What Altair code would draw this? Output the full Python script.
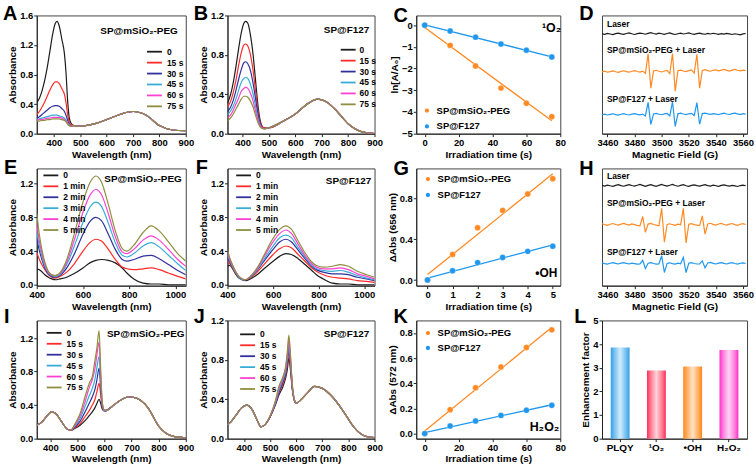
import altair as alt
import pandas as pd

FONT = "Liberation Sans"
SIX = ["#1c1c1c", "#ff2b2b", "#30309c", "#38acd6", "#ff40d2", "#8e8e3e"]
ORANGE = "#ff8a24"
BLUE = "#1f97ee"
GREY = "#1c1c1c"

COL_W = [150, 148, 145, 146]
ROW_H = [119, 118, 119]

PEG = "SP@mSiO₂-PEG"
F127 = "SP@F127"
TIMES_S = ["0", "15 s", "30 s", "45 s", "60 s", "75 s"]
TIMES_MIN = ["0", "1 min", "2 min", "3 min", "4 min", "5 min"]

# ---------------- A ----------------
WA = [335, 345, 355, 365, 375, 385, 395, 405, 412, 420, 430, 440, 446, 452, 458, 465,
      475, 490, 520, 560, 600, 650, 700, 750, 800, 850, 900]
A0h = [0.42, 0.48, 0.58, 0.72, 0.90, 1.12, 1.34, 1.49, 1.52, 1.46, 1.28, 1.08, 0.82, 0.45, 0.22, 0.14]
A15h = [0.26, 0.30, 0.36, 0.43, 0.51, 0.59, 0.66, 0.70, 0.70, 0.68, 0.61, 0.53, 0.42, 0.26, 0.16, 0.12]
A30h = [0.21, 0.23, 0.26, 0.29, 0.32, 0.35, 0.37, 0.38, 0.38, 0.37, 0.34, 0.30, 0.25, 0.18, 0.13, 0.11]
A45h = [0.19, 0.20, 0.21, 0.22, 0.23, 0.24, 0.25, 0.25, 0.25, 0.24, 0.23, 0.21, 0.18, 0.15, 0.12, 0.10]
A60h = [0.18, 0.19, 0.19, 0.20, 0.21, 0.21, 0.22, 0.22, 0.22, 0.22, 0.21, 0.19, 0.17, 0.14, 0.11, 0.10]
A75h = [0.17, 0.17, 0.18, 0.18, 0.19, 0.19, 0.20, 0.20, 0.20, 0.20, 0.19, 0.18, 0.16, 0.13, 0.11, 0.10]
A_TAIL = [0.11, 0.10, 0.11, 0.14, 0.19, 0.26, 0.30, 0.25, 0.11, 0.05, 0.04]

# ---------------- B ----------------
WB = [343, 355, 365, 375, 385, 395, 405, 412, 420, 430, 440, 450, 460, 470, 480,
      500, 550, 600, 650, 685, 720, 760, 800, 850, 900]
B0h = [0.31, 0.40, 0.52, 0.68, 0.86, 1.02, 1.12, 1.14, 1.12, 1.00, 0.80, 0.52, 0.25, 0.10, 0.06]
B15h = [0.27, 0.33, 0.42, 0.54, 0.69, 0.82, 0.90, 0.91, 0.89, 0.80, 0.64, 0.42, 0.20, 0.09, 0.06]
B30h = [0.22, 0.27, 0.34, 0.44, 0.55, 0.65, 0.72, 0.73, 0.71, 0.64, 0.51, 0.34, 0.17, 0.08, 0.05]
B45h = [0.19, 0.23, 0.28, 0.35, 0.44, 0.52, 0.56, 0.57, 0.56, 0.50, 0.40, 0.27, 0.14, 0.07, 0.05]
B60h = [0.16, 0.19, 0.24, 0.30, 0.36, 0.43, 0.46, 0.47, 0.46, 0.41, 0.33, 0.22, 0.12, 0.07, 0.05]
B75h = [0.13, 0.16, 0.20, 0.25, 0.30, 0.35, 0.38, 0.38, 0.37, 0.33, 0.27, 0.18, 0.10, 0.06, 0.05]
B_TAIL = [0.06, 0.12, 0.20, 0.31, 0.35, 0.32, 0.22, 0.10, 0.02, 0.00]

# ---------------- E / F ----------------
WE = [400, 410, 420, 435, 450, 465, 480, 500, 530, 560, 600, 630, 656, 680, 710, 740,
      770, 790, 820, 860, 895, 930, 970, 1010, 1045]
E0 = [0.19, 0.18, 0.16, 0.12, 0.09, 0.07, 0.06, 0.07, 0.09, 0.13, 0.20, 0.26, 0.29, 0.30, 0.29, 0.26, 0.20, 0.14, 0.07, 0.02, 0.01, 0.01, 0.00, 0.00, 0.00]
E1 = [0.38, 0.31, 0.25, 0.18, 0.12, 0.09, 0.08, 0.10, 0.15, 0.24, 0.40, 0.50, 0.54, 0.52, 0.42, 0.30, 0.21, 0.19, 0.18, 0.19, 0.20, 0.18, 0.14, 0.10, 0.07]
E2 = [0.55, 0.42, 0.32, 0.20, 0.13, 0.10, 0.09, 0.11, 0.20, 0.35, 0.60, 0.75, 0.80, 0.76, 0.60, 0.42, 0.30, 0.28, 0.30, 0.34, 0.35, 0.31, 0.24, 0.17, 0.12]
E3 = [0.63, 0.48, 0.36, 0.22, 0.14, 0.11, 0.10, 0.12, 0.24, 0.44, 0.74, 0.92, 0.98, 0.93, 0.73, 0.50, 0.35, 0.33, 0.37, 0.46, 0.50, 0.45, 0.35, 0.25, 0.17]
E4 = [0.72, 0.54, 0.40, 0.25, 0.15, 0.12, 0.11, 0.13, 0.27, 0.51, 0.86, 1.06, 1.13, 1.07, 0.84, 0.57, 0.39, 0.37, 0.42, 0.53, 0.58, 0.53, 0.42, 0.30, 0.22]
E5 = [0.85, 0.62, 0.45, 0.27, 0.16, 0.12, 0.11, 0.14, 0.30, 0.58, 0.98, 1.21, 1.29, 1.22, 0.95, 0.64, 0.43, 0.40, 0.47, 0.62, 0.70, 0.64, 0.51, 0.37, 0.28]
F0 = [0.22, 0.23, 0.20, 0.13, 0.08, 0.06, 0.05, 0.07, 0.12, 0.19, 0.28, 0.34, 0.37, 0.36, 0.31, 0.24, 0.17, 0.12, 0.07, 0.02, 0.01, 0.01, 0.00, 0.00, 0.00]
F1 = [0.28, 0.25, 0.21, 0.14, 0.09, 0.06, 0.06, 0.08, 0.15, 0.24, 0.36, 0.43, 0.46, 0.44, 0.36, 0.28, 0.20, 0.16, 0.12, 0.09, 0.08, 0.07, 0.05, 0.04, 0.03]
F2 = [0.33, 0.27, 0.22, 0.15, 0.09, 0.06, 0.06, 0.09, 0.17, 0.28, 0.42, 0.51, 0.54, 0.51, 0.41, 0.31, 0.22, 0.18, 0.15, 0.13, 0.13, 0.12, 0.09, 0.07, 0.05]
F3 = [0.35, 0.29, 0.23, 0.15, 0.09, 0.06, 0.06, 0.09, 0.18, 0.30, 0.46, 0.56, 0.59, 0.56, 0.44, 0.33, 0.23, 0.19, 0.17, 0.16, 0.17, 0.15, 0.11, 0.08, 0.06]
F4 = [0.38, 0.30, 0.24, 0.16, 0.10, 0.07, 0.06, 0.10, 0.19, 0.33, 0.51, 0.61, 0.65, 0.61, 0.48, 0.35, 0.25, 0.21, 0.19, 0.19, 0.20, 0.18, 0.13, 0.10, 0.07]
F5 = [0.42, 0.32, 0.25, 0.16, 0.10, 0.07, 0.06, 0.10, 0.20, 0.35, 0.55, 0.66, 0.70, 0.66, 0.52, 0.38, 0.27, 0.23, 0.21, 0.22, 0.24, 0.22, 0.16, 0.12, 0.09]

# ---------------- I ----------------
WI = [350, 370, 390, 405, 420, 440, 460, 475,
      490, 510, 530, 545, 555, 565, 572, 580, 586, 592, 600,
      610, 630, 660, 690, 720, 760, 800, 850, 900]
I_HEAD = [0.16, 0.20, 0.28, 0.32, 0.30, 0.21, 0.12, 0.10]
I0m = [0.12, 0.16, 0.22, 0.28, 0.32, 0.37, 0.42, 0.47, 0.42, 0.35, 0.33]
I15m = [0.13, 0.18, 0.27, 0.34, 0.40, 0.47, 0.56, 0.66, 0.52, 0.37, 0.33]
I30m = [0.14, 0.21, 0.33, 0.43, 0.50, 0.59, 0.70, 0.84, 0.60, 0.38, 0.33]
I45m = [0.15, 0.24, 0.40, 0.52, 0.60, 0.71, 0.85, 0.98, 0.68, 0.40, 0.33]
I60m = [0.16, 0.27, 0.46, 0.62, 0.70, 0.84, 1.00, 1.15, 0.76, 0.42, 0.34]
I75m = [0.17, 0.30, 0.52, 0.67, 0.74, 0.94, 1.08, 1.29, 0.82, 0.43, 0.34]
I_TAIL = [0.34, 0.39, 0.46, 0.50, 0.48, 0.37, 0.15, 0.03, 0.01]

# ---------------- J ----------------
WJ = [337, 350, 370, 390, 410, 430, 450, 465,
      480, 500, 520, 535, 548, 560, 566, 572, 578, 585, 592,
      600, 620, 645, 670, 700, 740, 780, 820, 860, 900]
J_HEAD = [0.14, 0.17, 0.24, 0.31, 0.34, 0.30, 0.19, 0.12]
J0m = [0.14, 0.22, 0.34, 0.45, 0.52, 0.62, 0.70, 0.82, 0.70, 0.50, 0.40]
J15m = [0.14, 0.22, 0.35, 0.47, 0.55, 0.65, 0.75, 0.88, 0.74, 0.52, 0.40]
J30m = [0.14, 0.22, 0.35, 0.48, 0.57, 0.67, 0.78, 0.93, 0.77, 0.53, 0.40]
J45m = [0.14, 0.23, 0.36, 0.50, 0.59, 0.69, 0.81, 0.96, 0.80, 0.54, 0.41]
J60m = [0.14, 0.23, 0.37, 0.52, 0.61, 0.72, 0.85, 1.01, 0.83, 0.55, 0.41]
J75m = [0.14, 0.23, 0.38, 0.54, 0.62, 0.74, 0.88, 1.05, 0.86, 0.56, 0.41]
J_TAIL = [0.36, 0.40, 0.47, 0.53, 0.51, 0.42, 0.28, 0.12, 0.03, 0.01]

# ---------------- kinetics C / G / K ----------------
T_S = [0, 15, 30, 45, 60, 75]
T_MIN = [0, 1, 2, 3, 4, 5]
C_PEG = [0.0, -0.93, -1.88, -2.90, -3.60, -4.22]
C_F127 = [0.0, -0.27, -0.55, -0.87, -1.15, -1.47]
G_PEG = [0.0, 0.25, 0.51, 0.68, 0.84, 0.99]
G_F127 = [0.0, 0.09, 0.17, 0.22, 0.28, 0.33]
K_PEG = [0.0, 0.19, 0.365, 0.53, 0.685, 0.825]
K_F127 = [0.0, 0.06, 0.10, 0.145, 0.185, 0.225]

# ---------------- EPR D / H (field grid 3456..3562, step 2 G) ----------------
FIELD = list(range(3456, 3564, 2))
D_LASER = [8.45, 8.40, 8.48, 8.43, 8.38, 8.46, 8.51, 8.44, 8.40,
           8.47, 8.53, 8.45, 8.39, 8.46, 8.51, 8.47, 8.41, 8.48,
           8.55, 8.47, 8.42, 8.50, 8.45, 8.40, 8.47, 8.52, 8.44,
           8.39, 8.45, 8.50, 8.43, 8.47, 8.53, 8.45, 8.40, 8.46,
           8.51, 8.44, 8.41, 8.48, 8.43, 8.49, 8.45, 8.40, 8.46,
           8.42, 8.48, 8.44, 8.39, 8.45, 8.41, 8.36, 8.44, 8.47]
D_PEG = [5.22, 5.28, 5.20, 5.25, 5.31, 5.24, 5.19, 5.27, 5.32,
         5.25, 5.20, 5.28, 5.33, 5.26, 5.21, 5.29, 5.10, 6.75,
         3.85, 5.30, 5.36, 5.28, 5.22, 5.30, 5.35, 5.08, 6.78,
         3.60, 5.32, 5.38, 5.30, 5.25, 5.33, 5.40, 5.12, 6.72,
         3.85, 5.35, 5.42, 5.33, 5.28, 5.36, 5.40, 5.31, 5.37,
         5.43, 5.35, 5.30, 5.38, 5.44, 5.36, 5.31, 5.38, 5.33]
D_F127 = [1.60, 1.65, 1.58, 1.63, 1.68, 1.61, 1.57, 1.64, 1.69,
          1.62, 1.58, 1.65, 1.70, 1.63, 1.59, 1.66, 1.50, 2.65,
          0.78, 1.66, 1.71, 1.64, 1.60, 1.67, 1.71, 1.50, 2.68,
          0.62, 1.68, 1.73, 1.66, 1.61, 1.68, 1.72, 1.52, 2.62,
          0.80, 1.70, 1.74, 1.67, 1.63, 1.70, 1.66, 1.61, 1.68,
          1.73, 1.66, 1.62, 1.69, 1.74, 1.67, 1.62, 1.69, 1.65]
H_LASER = [8.55, 8.50, 8.58, 8.52, 8.47, 8.55, 8.61, 8.53, 8.48,
           8.56, 8.62, 8.54, 8.49, 8.57, 8.63, 8.55, 8.48, 8.56,
           8.62, 8.53, 8.47, 8.56, 8.64, 8.55, 8.49, 8.57, 8.63,
           8.54, 8.48, 8.56, 8.61, 8.52, 8.47, 8.55, 8.60, 8.53,
           8.49, 8.56, 8.61, 8.54, 8.50, 8.57, 8.52, 8.47, 8.55,
           8.60, 8.53, 8.49, 8.56, 8.51, 8.46, 8.54, 8.58, 8.52]
H_PEG = [5.30, 5.20, 5.15, 5.24, 5.30, 5.22, 5.16, 5.25, 5.31,
         5.23, 5.17, 5.26, 5.20, 5.14, 5.10, 5.90, 4.55, 5.25,
         5.31, 5.22, 5.16, 5.10, 6.60, 3.70, 5.22, 5.28, 5.20,
         5.15, 5.25, 5.20, 6.60, 3.65, 5.23, 5.29, 5.21, 5.16,
         5.12, 5.95, 4.40, 5.26, 5.32, 5.23, 5.17, 5.26, 5.31,
         5.22, 5.16, 5.25, 5.30, 5.21, 5.15, 5.24, 5.29, 5.22]
H_F127 = [1.95, 1.88, 1.84, 1.91, 1.97, 1.90, 1.85, 1.92, 1.96,
          1.90, 1.85, 1.92, 1.88, 1.83, 1.86, 2.16, 1.46, 1.92,
          1.97, 1.89, 1.84, 1.86, 2.55, 1.12, 1.90, 1.95, 1.88,
          1.84, 1.92, 1.87, 2.42, 1.12, 1.91, 1.96, 1.89, 1.85,
          1.86, 2.12, 1.52, 1.93, 1.98, 1.90, 1.85, 1.92, 1.97,
          1.90, 1.85, 1.92, 1.96, 1.89, 1.84, 1.91, 1.95, 1.89]

# ---------------- L ----------------
L_CATS = ["PLQY", "¹O₂", "•OH", "H₂O₂"]
L_VALS = [3.85, 2.88, 3.05, 3.75]
L_GRAD = [("#3a9fe2", "#74c0f0", "#d2ecfb"),
          ("#ff2d5a", "#ff7a92", "#ffd3d9"),
          ("#ff861a", "#ffae60", "#ffe2c4"),
          ("#ff2fc9", "#ff80de", "#ffd3f3")]

LEG_SIZE = 100          # legend symbol size (row height follows sqrt of this)
LEG_PATH = "M-1.5,0H1.5"  # a line 1.5x wider than the reserved symbol box
LEG_OVER = 0.25 * LEG_SIZE ** 0.5  # how far the line reaches past the reserved box


def check(name, xs, ys):
    if len(xs) != len(ys):
        raise ValueError(f"{name}: {len(ys)} values for {len(xs)} x")


def label(text, x, y, size=10, align="left", baseline="middle"):
    return alt.Chart(pd.DataFrame({"t": [text]})).mark_text(
        align=align, baseline=baseline, fontSize=size, fontWeight="bold",
        font=FONT, color="black").encode(x=alt.value(x), y=alt.value(y), text="t:N")


def letter(ch, x, y):
    return label(ch, x, y, size=20, baseline="alphabetic")


def spectra(let, lpos, col, row, wl, series, names, xdom, xticks, ydom, yticks, leg, tag, tagpos):
    recs = []
    for nm, vals in zip(names, series):
        check(let + nm, wl, vals)
        for w, a in zip(wl, vals):
            recs.append({"w": w, "a": a, "s": nm})
    df = pd.DataFrame(recs)
    x = alt.X("w:Q", scale=alt.Scale(domain=xdom, nice=False, zero=False),
              axis=alt.Axis(values=xticks, format="d", title="Wavelength (nm)"))
    y = alt.Y("a:Q", scale=alt.Scale(domain=ydom, nice=False, zero=False),
              axis=alt.Axis(values=yticks, format=".1f", title="Absorbance"))
    c = alt.Color("s:N", scale=alt.Scale(domain=names, range=SIX),
                  legend=alt.Legend(title=None, orient="none", legendX=leg[0] + LEG_OVER,
                                    legendY=leg[1], symbolType=LEG_PATH, symbolSize=LEG_SIZE,
                                    symbolStrokeWidth=1.8, labelFontSize=8.5,
                                    labelOffset=leg[2] + LEG_OVER, rowPadding=-0.6, padding=0))
    lines = alt.Chart(df).mark_line(strokeWidth=1.2, interpolate="monotone", clip=True).encode(
        x=x, y=y, color=c)
    return alt.layer(lines, label(tag, *tagpos), letter(let, *lpos)).properties(
        width=COL_W[col], height=ROW_H[row])


def kinetics(let, lpos, col, row, t, peg, f127, xdom, xticks, ydom, yticks, yfmt, ytitle, leg, tag, tagpos, tagsize):
    check(let, t, peg)
    check(let, t, f127)
    recs = [{"t": a, "v": b, "s": PEG, "k": 0} for a, b in zip(t, peg)]
    recs += [{"t": a, "v": b, "s": F127, "k": 1} for a, b in zip(t, f127)]
    df = pd.DataFrame(recs)
    x = alt.X("t:Q", scale=alt.Scale(domain=xdom, nice=False, zero=False),
              axis=alt.Axis(values=xticks, format="d", title="Irradiation time (s)"))
    y = alt.Y("v:Q", scale=alt.Scale(domain=ydom, nice=False, zero=False),
              axis=alt.Axis(values=yticks, format=yfmt, title=ytitle))
    fits = [alt.Chart(df).transform_filter(alt.datum.k == k).transform_regression("t", "v")
            .mark_line(strokeWidth=1.3, color=colr, clip=True).encode(x=x, y=y)
            for k, colr in [(0, ORANGE), (1, BLUE)]]
    pts = alt.Chart(df).mark_circle(size=36, opacity=1, stroke="white", strokeWidth=0.3).encode(
        x=x, y=y,
        color=alt.Color("s:N", scale=alt.Scale(domain=[PEG, F127], range=[ORANGE, BLUE]),
                        legend=alt.Legend(title=None, orient="none", legendX=leg[0], legendY=leg[1],
                                          symbolType="circle", symbolSize=34, labelFontSize=9.5,
                                          labelOffset=5, rowPadding=leg[2], padding=0)))
    return alt.layer(*fits, pts, label(tag, tagpos[0], tagpos[1], size=tagsize, align="right"),
                     letter(let, *lpos)).properties(width=COL_W[col], height=ROW_H[row])


def epr(let, lpos, col, row, laser, peg, f127, ty):
    recs = []
    for nm, vals in [("Laser", laser), ("PEG", peg), ("F127", f127)]:
        check(let + nm, FIELD, vals)
        for f, v in zip(FIELD, vals):
            recs.append({"f": f, "v": v, "k": nm})
    df = pd.DataFrame(recs)
    line = alt.Chart(df).mark_line(strokeWidth=1.2, clip=True).encode(
        x=alt.X("f:Q", scale=alt.Scale(domain=[3456, 3563], nice=False, zero=False),
                axis=alt.Axis(values=[3460, 3480, 3500, 3520, 3540, 3560], format="d",
                              title="Magnetic Field (G)")),
        y=alt.Y("v:Q", scale=alt.Scale(domain=[0, 10], nice=False), axis=None),
        color=alt.Color("k:N", scale=alt.Scale(domain=["Laser", "PEG", "F127"],
                                               range=[GREY, ORANGE, BLUE]), legend=None))
    return alt.layer(line,
                     label("Laser", 5, ty[0], size=8.5),
                     label(PEG + " + Laser", 5, ty[1], size=8.5),
                     label(F127 + " + Laser", 5, ty[2], size=8.5),
                     letter(let, *lpos)).properties(width=COL_W[col], height=ROW_H[row])


def bars(let, lpos, col, row):
    df = pd.DataFrame({"c": L_CATS, "v": L_VALS, "i": [0, 1, 2, 3]})
    x = alt.X("c:N", sort=L_CATS,
              scale=alt.Scale(domain=L_CATS, paddingInner=0.5, paddingOuter=0.25),
              axis=alt.Axis(title=None, labelAngle=0, labelFontSize=10))
    y = alt.Y("v:Q", scale=alt.Scale(domain=[0, 5], nice=False),
              axis=alt.Axis(values=[0, 1, 2, 3, 4, 5], format="d", title="Enhancement factor"))
    layers = []
    for k, (d, m, l) in enumerate(L_GRAD):
        grad = alt.Gradient(gradient="linear", x1=0, x2=1, y1=0, y2=0, stops=[
            alt.GradientStop(offset=0, color=d), alt.GradientStop(offset=0.2, color=m),
            alt.GradientStop(offset=0.5, color=l), alt.GradientStop(offset=0.8, color=m),
            alt.GradientStop(offset=1, color=d)])
        layers.append(alt.Chart(df).transform_filter(alt.datum.i == k)
                      .mark_bar(size=19, color=grad).encode(x=x, y=y))
    return alt.layer(*layers, letter(let, *lpos)).properties(width=COL_W[col], height=ROW_H[row])


XT_A = [400, 500, 600, 700, 800, 900]
XT_E = [400, 600, 800, 1000]
Y4 = [0, 0.4, 0.8, 1.2]

# spectra legend: (x of line start, legend top, gap line->label)
pA = spectra("A", (-34, 4.5), 0, 0, WA,
             [A0h + A_TAIL, A15h + A_TAIL, A30h + A_TAIL, A45h + A_TAIL, A60h + A_TAIL, A75h + A_TAIL],
             TIMES_S, [335, 900], XT_A, [0, 1.6], [0, 0.4, 0.8, 1.2, 1.6],
             (110, 30.5, 4), PEG, (64, 16))
pB = spectra("B", (-34, 4.5), 1, 0, WB,
             [B0h + B_TAIL, B15h + B_TAIL, B30h + B_TAIL, B45h + B_TAIL, B60h + B_TAIL, B75h + B_TAIL],
             TIMES_S, [343, 900], XT_A, [0, 1.2], Y4,
             (113, 28.5, 3), F127, (97, 15))
pC = kinetics("C", (-23, 6.5), 2, 0, T_S, C_PEG, C_F127, [-5, 80], [0, 20, 40, 60, 80],
              [-5, 0.45], [0, -1, -2, -3, -4, -5], "d", "ln[A/A₀]", (6, 91, 3), "¹O₂",
              (COL_W[2] + 1, 13), 12.5)
pD = epr("D", (-23, 4.5), 3, 0, D_LASER, D_PEG, D_F127, (8.7, 34.3, 83.7))

pE = spectra("E", (-33, 6), 0, 1, WE, [E0, E1, E2, E3, E4, E5], TIMES_MIN,
             [400, 1045], XT_E, [-0.01, 1.38], Y4, (5.7, 1, 4), PEG, (68, 11))
pF = spectra("F", (-32, 6), 1, 1, WE, [F0, F1, F2, F3, F4, F5], TIMES_MIN,
             [400, 1045], XT_E, [-0.01, 1.38], Y4, (7.7, 1, 4), F127, (99, 12.3))
pG = kinetics("G", (-23, 7), 2, 1, T_MIN, G_PEG, G_F127, [-0.45, 5.3], [0, 1, 2, 3, 4, 5],
              [-0.055, 1.09], [0, 0.4, 0.8], ".1f", "ΔAbs (656 nm)", (7, 6, 3), "•OH",
              (COL_W[2] - 3, 105), 12)
pH = epr("H", (-23, 7), 3, 1, H_LASER, H_PEG, H_F127, (8, 35, 84.6))

pI = spectra("I", (-33, 3), 0, 2, WI,
             [I_HEAD + m + I_TAIL for m in [I0m, I15m, I30m, I45m, I60m, I75m]], TIMES_S,
             [350, 900], XT_A, [0, 1.41], Y4, (9, 6.5, 4), PEG, (70.7, 13.3))
pJ = spectra("J", (-34, 3), 1, 2, WJ,
             [J_HEAD + m + J_TAIL for m in [J0m, J15m, J30m, J45m, J60m, J75m]], TIMES_S,
             [337, 900], XT_A, [0, 1.2], Y4, (11.7, 8, 4), F127, (97, 14))
pK = kinetics("K", (-23, 3), 2, 2, T_S, K_PEG, K_F127, [-5, 80], [0, 20, 40, 60, 80],
              [-0.04, 0.9], [0, 0.2, 0.4, 0.6, 0.8], ".1f", "ΔAbs (572 nm)", (7, 8, 2), "H₂O₂",
              (COL_W[2] - 1, 107), 12.5)
pL = bars("L", (-28, 3), 3, 2)

chart = alt.concat(pA, pB, pC, pD, pE, pF, pG, pH, pI, pJ, pK, pL,
                   columns=4, spacing={"row": 35, "column": 42}, bounds="flush", align="each"
                   ).resolve_scale(color="independent").properties(
    padding={"left": 2, "top": 2, "right": 2, "bottom": 2}, background="white"
).configure_axis(
    labelFont=FONT, titleFont=FONT, labelFontSize=9.5, titleFontSize=10,
    labelFontWeight="bold", titleFontWeight="bold", labelColor="black", titleColor="black",
    domainColor="#222222", tickColor="#222222", tickSize=3, labelPadding=1, titlePadding=2,
    grid=False, labelFlush=False, labelOverlap=False
).configure_view(stroke="#444444", strokeWidth=1).configure_legend(
    labelFont=FONT, labelFontWeight="bold", labelColor="black"
)

chart.save("out.html", embed_options={"renderer": "svg", "actions": False})
